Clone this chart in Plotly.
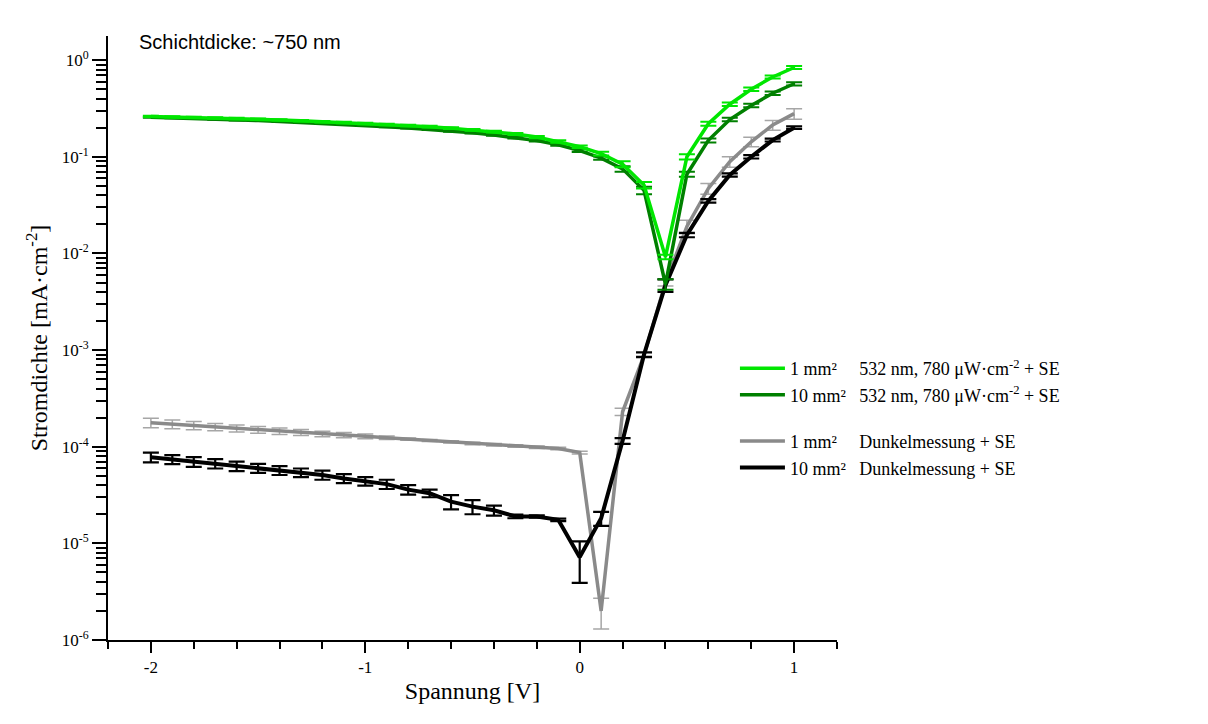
import plotly.graph_objects as go

voltage = [-2.0, -1.9, -1.8, -1.7, -1.6, -1.5, -1.4, -1.3, -1.2, -1.1, -1.0,
           -0.9, -0.8, -0.7, -0.6, -0.5, -0.4, -0.3, -0.2, -0.1, 0.0,
           0.1, 0.2, 0.3, 0.4, 0.5, 0.6, 0.7, 0.8, 0.9, 1.0]

light_1mm = [0.262, 0.259, 0.256, 0.252, 0.249, 0.245, 0.241, 0.236, 0.231, 0.226, 0.221,
             0.216, 0.211, 0.205, 0.198, 0.190, 0.182, 0.172, 0.160, 0.144, 0.127,
             0.108, 0.084, 0.051, 0.0092, 0.100, 0.220, 0.350, 0.500, 0.670, 0.840]
light_1mm_err = [0.004, 0.004, 0.004, 0.004, 0.004, 0.004, 0.004, 0.004, 0.004, 0.004, 0.004,
                 0.004, 0.004, 0.004, 0.004, 0.004, 0.004, 0.004, 0.004, 0.004, 0.004,
                 0.005, 0.006, 0.004, 0.0005, 0.006, 0.010, 0.015, 0.020, 0.025, 0.030]

light_10mm = [0.256, 0.253, 0.249, 0.245, 0.241, 0.237, 0.232, 0.227, 0.222, 0.217, 0.211,
              0.205, 0.199, 0.192, 0.185, 0.177, 0.168, 0.158, 0.147, 0.133, 0.116,
              0.097, 0.075, 0.045, 0.0048, 0.066, 0.148, 0.243, 0.340, 0.455, 0.570]
light_10mm_err = [0.003, 0.003, 0.003, 0.003, 0.003, 0.003, 0.003, 0.003, 0.003, 0.003, 0.003,
                  0.003, 0.003, 0.003, 0.003, 0.003, 0.003, 0.003, 0.003, 0.003, 0.004,
                  0.004, 0.005, 0.004, 0.0006, 0.004, 0.007, 0.010, 0.014, 0.018, 0.022]

dark_1mm = [1.77e-4, 1.71e-4, 1.66e-4, 1.60e-4, 1.55e-4, 1.50e-4, 1.45e-4, 1.41e-4, 1.36e-4, 1.32e-4, 1.28e-4,
            1.24e-4, 1.20e-4, 1.16e-4, 1.12e-4, 1.08e-4, 1.05e-4, 1.02e-4, 9.9e-5, 9.6e-5, 8.7e-5,
            2.0e-6, 2.3e-4, 8.8e-4, 5.0e-3, 0.019, 0.047, 0.089, 0.143, 0.213, 0.280]
dark_1mm_err = [2.0e-5, 1.8e-5, 1.6e-5, 1.4e-5, 1.3e-5, 1.2e-5, 1.1e-5, 1.0e-5, 9e-6, 8e-6, 7e-6,
                5e-6, 3e-6, 3e-6, 3e-6, 3e-6, 3e-6, 3e-6, 3e-6, 3e-6, 3e-6,
                7e-7, 2.0e-5, 5e-5, 4e-4, 0.003, 0.006, 0.011, 0.016, 0.025, 0.035]

dark_10mm = [7.8e-5, 7.4e-5, 7.0e-5, 6.7e-5, 6.3e-5, 6.0e-5, 5.7e-5, 5.4e-5, 5.1e-5, 4.7e-5, 4.4e-5,
             4.1e-5, 3.6e-5, 3.3e-5, 2.7e-5, 2.4e-5, 2.2e-5, 1.9e-5, 1.9e-5, 1.75e-5, 7.2e-6,
             1.82e-5, 1.15e-4, 9.0e-4, 4.7e-3, 0.0155, 0.035, 0.065, 0.100, 0.149, 0.200]
dark_10mm_err = [9e-6, 8e-6, 8e-6, 7.5e-6, 7e-6, 6.5e-6, 6e-6, 5.5e-6, 5.5e-6, 5e-6, 4.5e-6,
                 4.5e-6, 4e-6, 3e-6, 4.5e-6, 4e-6, 2.6e-6, 0.8e-6, 0.5e-6, 0.5e-6, 3.3e-6,
                 3e-6, 8e-6, 5e-5, 7e-4, 8e-4, 0.0015, 0.0025, 0.004, 0.005, 0.006]

y_tickvals = [1e-6, 1e-5, 1e-4, 1e-3, 1e-2, 1e-1, 1e0]
y_ticktext = ["10<sup>-6</sup>", "10<sup>-5</sup>", "10<sup>-4</sup>", "10<sup>-3</sup>",
              "10<sup>-2</sup>", "10<sup>-1</sup>", "10<sup>0</sup>"]
x_tickvals = [-2, -1, 0, 1]
x_ticktext = ["-2", "-1", "0", "1"]

SERIF = "Liberation Serif"
sp = "\u00a0"
label_light_1 = "1 mm²\u2007" + sp * 3 + "532 nm, 780 μW·cm<sup>-2</sup> + SE"
label_light_10 = "10 mm²" + sp * 3 + "532 nm, 780 μW·cm<sup>-2</sup> + SE"
label_dark_1 = "1 mm²\u2007" + sp * 3 + "Dunkelmessung + SE"
label_dark_10 = "10 mm²" + sp * 3 + "Dunkelmessung + SE"

fig = go.Figure()

def add(y, err, color, ecolor, ethick, lw, name, group, rank):
    fig.add_trace(go.Scatter(
        x=voltage, y=y, mode="lines", name=name,
        line=dict(color=color, width=lw),
        error_y=dict(type="data", array=err, visible=True, color=ecolor,
                     thickness=ethick, width=8),
        legendgroup=group, legendrank=rank,
    ))

add(dark_1mm, dark_1mm_err, "#8a8a8a", "#a6a6a6", 1.5, 3.5, label_dark_1, "dark", 3)
add(dark_10mm, dark_10mm_err, "#000000", "#000000", 2.2, 4, label_dark_10, "dark", 4)
add(light_10mm, light_10mm_err, "#008000", "#008000", 2, 3.5, label_light_10, "light", 2)
add(light_1mm, light_1mm_err, "#00e600", "#00e600", 2, 3.5, label_light_1, "light", 1)

fig.update_layout(
    width=1208, height=724,
    margin=dict(l=100, r=379, t=28, b=92),
    paper_bgcolor="white", plot_bgcolor="white",
    font=dict(family=SERIF, color="black"),
    showlegend=True,
    legend=dict(x=0.86, y=0.48, xanchor="left", yanchor="top",
                font=dict(family=SERIF, size=18, color="black"),
                bgcolor="rgba(0,0,0,0)", traceorder="grouped",
                tracegroupgap=20, itemwidth=45),
    xaxis=dict(range=[-2.2, 1.2], showline=True, linecolor="black", linewidth=2,
               ticks="outside", ticklen=11, tickwidth=2, tickcolor="black",
               tickvals=x_tickvals, ticktext=x_ticktext,
               tickfont=dict(family=SERIF, size=17, color="black"),
               minor=dict(dtick=0.2, ticks="outside", ticklen=7, tickwidth=2, tickcolor="black"),
               showgrid=False, zeroline=False,
               title=dict(text="Spannung [V]", font=dict(family=SERIF, size=24, color="black"),
                          standoff=6)),
    yaxis=dict(type="log", range=[-6, 0.25], showline=True, linecolor="black", linewidth=2,
               ticks="outside", ticklen=14, tickwidth=2, tickcolor="black",
               tickvals=y_tickvals, ticktext=y_ticktext,
               tickfont=dict(family=SERIF, size=17, color="black"),
               minor=dict(dtick="D1", ticks="outside", ticklen=10, tickwidth=2, tickcolor="black"),
               showgrid=False, zeroline=False,
               title=dict(text="Stromdichte [mA·cm<sup>-2</sup>]",
                          font=dict(family=SERIF, size=24, color="black"), standoff=7)),
    annotations=[dict(text="Schichtdicke: ~750 nm", x=0.040, y=0.99, xref="paper", yref="paper",
                      xanchor="left", yanchor="middle", showarrow=False,
                      font=dict(family="Liberation Sans", size=20, color="black"))],
)

fig.write_html("out.html")
